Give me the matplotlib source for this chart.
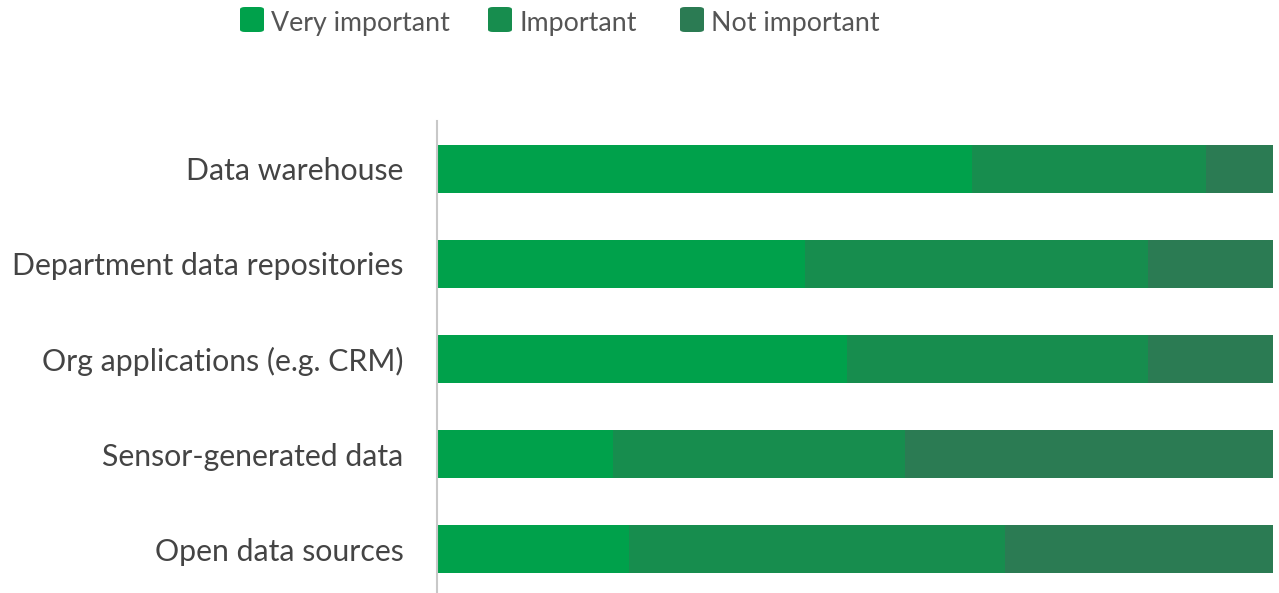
import matplotlib.pyplot as plt
from matplotlib.patches import FancyBboxPatch

categories = [
    "Data warehouse",
    "Department data repositories",
    "Org applications (e.g. CRM)",
    "Sensor-generated data",
    "Open data sources",
]
very_important = [64, 44, 49, 21, 23]
important = [28, 41, 36, 35, 45]
not_important = [8, 15, 15, 44, 32]

series = ["Very important", "Important", "Not important"]
colors = ["#00a14b", "#178d4e", "#2b7b53"]

plt.rcParams["font.family"] = ["Lato", "DejaVu Sans"]

fig = plt.figure(figsize=(12.79, 5.93), dpi=100)
ax = fig.add_axes([437 / 1279, 0, 836 / 1279, 1 - 121 / 593])

y = list(range(len(categories)))
left = [0] * len(categories)
for name, vals, c in zip(series, [very_important, important, not_important], colors):
    ax.barh(y, vals, left=left, height=0.505, color=c, label=name)
    left = [l + v for l, v in zip(left, vals)]

ax.set_xlim(0, 100)
ax.set_ylim(4.463, -0.505)
ax.set_yticks(y)
ax.set_yticklabels(categories, fontsize=21.8, color="#444444")
ax.tick_params(axis="y", length=0, pad=24)
ax.set_xticks([])
for s in ["top", "right", "bottom"]:
    ax.spines[s].set_visible(False)
ax.spines["left"].set_color("#c8c8c8")
ax.spines["left"].set_linewidth(1.5)

# legend drawn manually at the top
legend_x = [240, 488, 680]
for x0, name, c in zip(legend_x, series, colors):
    box = FancyBboxPatch((x0 / 1279, 1 - 32 / 593), 24 / 1279, 25 / 593,
                         boxstyle="round,pad=0,rounding_size=0.004",
                         transform=fig.transFigure, color=c, ec="none")
    fig.patches.append(box)
    fig.text((x0 + 31) / 1279, 1 - 23 / 593, name, fontsize=19.3,
             color="#555555", va="center", ha="left")

fig.savefig("out.png", dpi=100)
